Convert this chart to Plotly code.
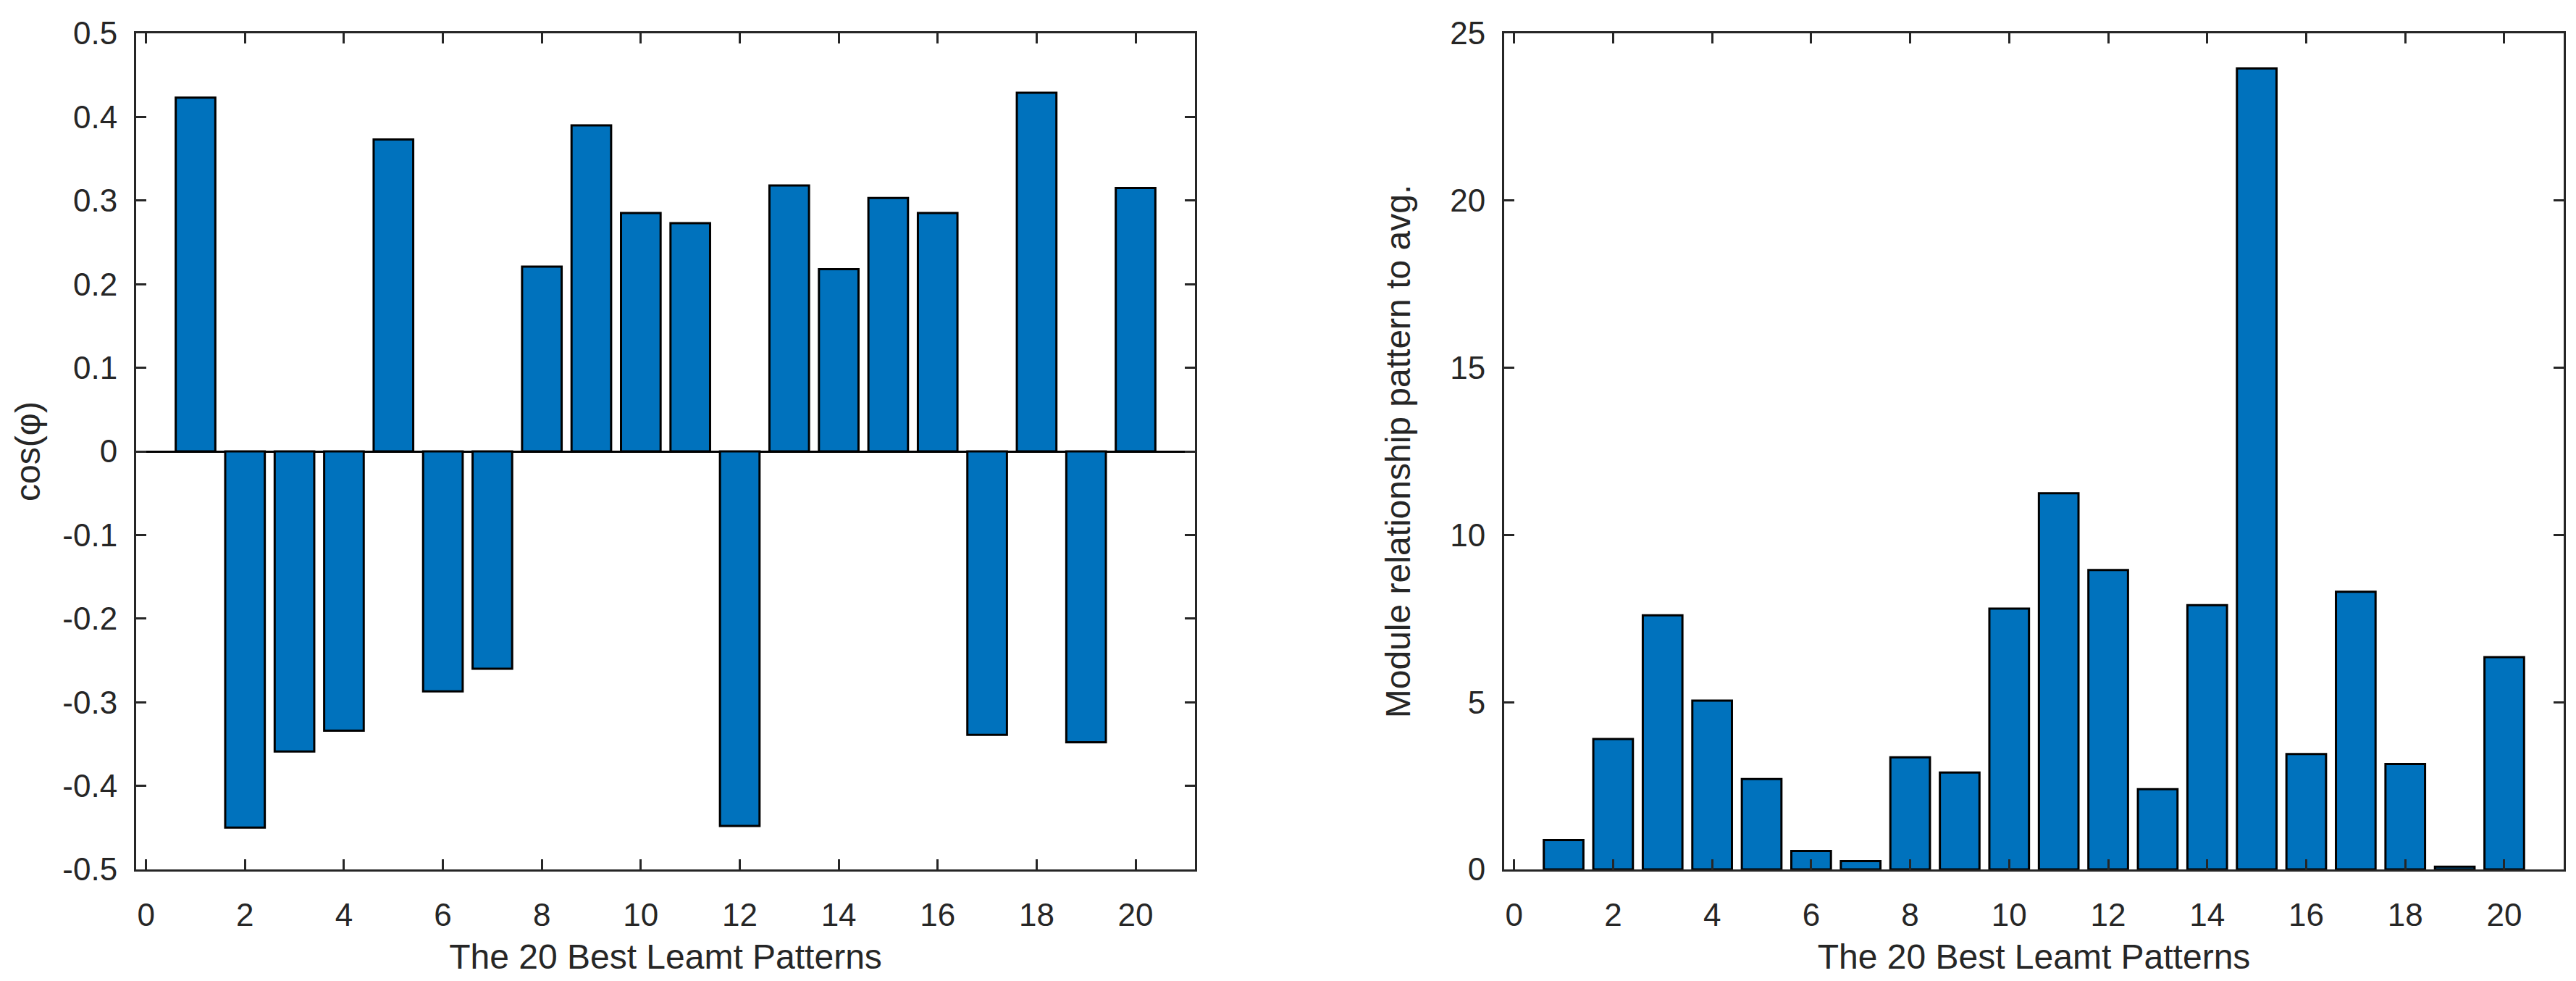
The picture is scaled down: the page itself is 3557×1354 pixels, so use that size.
import plotly.graph_objects as go
from plotly.subplots import make_subplots

patterns = list(range(1, 21))
cos_phi = [0.423, -0.450, -0.359, -0.334, 0.373, -0.287, -0.260, 0.221, 0.390, 0.285,
           0.273, -0.448, 0.318, 0.218, 0.303, 0.285, -0.339, 0.429, -0.348, 0.315]
module_rel = [0.88, 3.90, 7.60, 5.05, 2.70, 0.55, 0.25, 3.35, 2.90, 7.80,
              11.25, 8.95, 2.40, 7.90, 23.95, 3.45, 8.30, 3.15, 0.08, 6.35]

x_ticks = [0, 2, 4, 6, 8, 10, 12, 14, 16, 18, 20]
y1_ticks = [-0.5, -0.4, -0.3, -0.2, -0.1, 0, 0.1, 0.2, 0.3, 0.4, 0.5]
y1_labels = ["-0.5", "-0.4", "-0.3", "-0.2", "-0.1", "0", "0.1", "0.2", "0.3", "0.4", "0.5"]
y2_ticks = [0, 5, 10, 15, 20, 25]

x_title = "The 20 Best Leamt Patterns"
y1_title = "cos(φ)"
y2_title = "Module relationship pattern to avg."

BAR = "#0072BD"
AX = "#262626"
FONT = "Liberation Sans, Arial, Helvetica, sans-serif"

fig = make_subplots(rows=1, cols=2, horizontal_spacing=0.1)

fig.add_trace(go.Bar(x=patterns, y=cos_phi, marker=dict(color=BAR, line=dict(color="black", width=3)),
                     width=0.8, showlegend=False), row=1, col=1)
fig.add_trace(go.Bar(x=patterns, y=module_rel, marker=dict(color=BAR, line=dict(color="black", width=3)),
                     width=0.8, showlegend=False), row=1, col=2)

W, H = 3557, 1354
L, R, T, B = 180, 25, 38, 162
pw = W - L - R
d1 = [0, (1642 - L) / pw]
d2 = [(2069 - L) / pw, 1]

axis_common = dict(showline=True, linecolor=AX, linewidth=3, mirror="ticks", ticks="inside",
                   ticklen=14, tickwidth=2.5, tickcolor=AX, showgrid=False,
                   tickfont=dict(family=FONT, size=44, color=AX))

fig.update_xaxes(**axis_common, range=[-0.2, 21.2], tickvals=x_ticks, zeroline=False,
                 ticklabelstandoff=22,
                 title=dict(text=x_title, font=dict(family=FONT, size=48, color=AX), standoff=18))
fig.update_xaxes(domain=d1, row=1, col=1)
fig.update_xaxes(domain=d2, row=1, col=2)

fig.update_yaxes(**axis_common, row=1, col=1, range=[-0.5, 0.5], tickvals=y1_ticks, ticktext=y1_labels,
                 zeroline=True, zerolinecolor="black", zerolinewidth=2.5, ticklabelstandoff=14,
                 title=dict(text=y1_title, font=dict(family=FONT, size=48, color=AX), standoff=16))
fig.update_yaxes(**axis_common, row=1, col=2, range=[0, 25], tickvals=y2_ticks, zeroline=False,
                 ticklabelstandoff=14,
                 title=dict(text=y2_title, font=dict(family=FONT, size=48, color=AX), standoff=40))

fig.update_layout(width=W, height=H, margin=dict(l=L, r=R, t=T, b=B, autoexpand=False),
                  paper_bgcolor="white", plot_bgcolor="white", bargap=0.2,
                  font=dict(family=FONT, color=AX))

fig.write_html("out.html")
